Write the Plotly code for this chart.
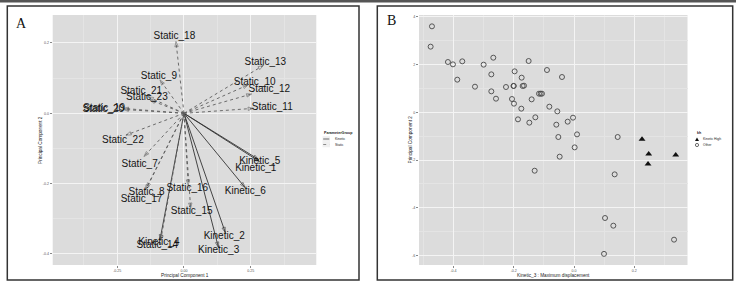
import plotly.graph_objects as go

W, H = 736, 290

# ---------------- Panel A : PCA loadings ----------------
var_names = ["Kinetic_1", "Kinetic_2", "Kinetic_3", "Kinetic_4", "Kinetic_5", "Kinetic_6",
             "Static_7", "Static_8", "Static_9", "Static_10", "Static_11", "Static_12",
             "Static_13", "Static_14", "Static_15", "Static_16", "Static_17", "Static_18",
             "Static_19", "Static_20", "Static_21", "Static_22", "Static_23"]
var_group = ["Kinetic"] * 6 + ["Static"] * 17
arrow_pc1 = [0.2825, 0.155, 0.129, -0.090, 0.279, 0.229,
             -0.150, -0.140, -0.090, 0.241, 0.260, 0.254,
             0.2975, -0.0875, 0.025, 0.016, -0.145, -0.030,
             -0.2275, -0.2275, -0.134, -0.2175, -0.1275]
arrow_pc2 = [-0.137, -0.339, -0.381, -0.360, -0.131, -0.211,
             -0.123, -0.213, 0.095, 0.081, 0.014, 0.055,
             0.136, -0.362, -0.270, -0.204, -0.218, 0.204,
             0.014, 0.011, 0.047, -0.062, 0.038]
label_pc1 = [0.269, 0.151, 0.130, -0.094, 0.284, 0.230,
             -0.166, -0.140, -0.094, 0.265, 0.331, 0.320,
             0.305, -0.100, 0.029, 0.0125, -0.159, -0.036,
             -0.299, -0.3025, -0.160, -0.229, -0.139]
label_pc2 = [-0.156, -0.351, -0.389, -0.368, -0.137, -0.223,
             -0.146, -0.225, 0.106, 0.088, 0.017, 0.069,
             0.144, -0.377, -0.280, -0.214, -0.244, 0.218,
             0.013, 0.010, 0.062, -0.076, 0.044]

# ---------------- Panel B : scatter ----------------
other_x = [-0.4716, -0.476, -0.4185, -0.4019, -0.3709, -0.3875, -0.3288, -0.300, -0.2679,
           -0.2745, -0.2745, -0.259, -0.2258, -0.2004, -0.2004, -0.1971, -0.2059, -0.1993,
           -0.1738, -0.1705, -0.166, -0.1506, -0.1406, -0.1749, -0.186, -0.1483, -0.1284,
           -0.1162, -0.1107, -0.1063, -0.0897, -0.0819, -0.0399, -0.0554, -0.0587, -0.052,
           -0.0476, -0.021, -0.0033, 0.010, 0.0022, -0.1306, 0.145, 0.135, 0.103, 0.1306,
           0.0996, 0.3321]
other_y = [3.596, 2.745, 2.103, 2.005, 2.131, 1.364, 1.071, 1.992, 2.284,
           1.587, 0.876, 0.569, 1.057, 1.099, 1.105, 1.713, 0.555, 0.360,
           1.448, 1.099, 1.113, 2.145, 0.541, 0.151, -0.295, -0.434, -0.211,
           0.778, 0.778, 0.778, 1.768, 0.234, 1.476, 0.039, -0.519, -1.035,
           -1.858, -0.393, -0.226, -0.924, -1.468, -2.445, -1.035, -2.597, -4.424, -4.745,
           -5.924, -5.330]
kh_x = [0.2258, 0.248, 0.3377, 0.2458]
kh_y = [-1.132, -1.746, -1.788, -2.165]

group_style = {"Kinetic": ("solid", "#333333"), "Static": ("dot", "#5e5e5e")}


def px(x):
    return x / W


def py(y):
    return 1 - y / H


fig = go.Figure()

for grp, (dash, col) in group_style.items():
    xs, ys, sz = [], [], []
    for g, ex, ey in zip(var_group, arrow_pc1, arrow_pc2):
        if g != grp:
            continue
        xs += [0, ex, None]
        ys += [0, ey, None]
        sz += [0, 5.5, 0]
    fig.add_trace(go.Scatter(
        x=xs, y=ys, mode="lines+markers", xaxis="x", yaxis="y",
        line=dict(color=col, width=0.9, dash=dash),
        marker=dict(symbol="arrow-open", size=sz, angleref="previous",
                    color=col, line=dict(color=col, width=0.8)),
        hoverinfo="skip", showlegend=False))

fig.add_trace(go.Scatter(
    x=label_pc1, y=label_pc2, text=var_names, mode="text", xaxis="x", yaxis="y",
    textposition="middle center",
    textfont=dict(family="Liberation Sans, Arial", size=10, color="#141414"),
    showlegend=False))

fig.add_trace(go.Scatter(
    x=other_x, y=other_y, mode="markers", xaxis="x2", yaxis="y2",
    marker=dict(symbol="circle-open", size=5, color="#474747", line=dict(color="#474747", width=0.9)),
    showlegend=False))
fig.add_trace(go.Scatter(
    x=kh_x, y=kh_y, mode="markers", xaxis="x2", yaxis="y2",
    marker=dict(symbol="triangle-up", size=6, color="#111111"),
    showlegend=False))

grid_major = "#f4f4f4"
grid_minor = "#e4e4e4"
tickfont = dict(family="Liberation Sans, Arial", size=3.6, color="#555555")
common = dict(showgrid=True, gridcolor=grid_major, gridwidth=0.9, zeroline=False,
              ticks="outside", ticklen=2, tickwidth=0.6, tickcolor="#888888",
              tickfont=tickfont, showline=False, fixedrange=True)

fig.update_layout(
    width=W, height=H, margin=dict(l=0, r=0, t=0, b=0),
    paper_bgcolor="white", plot_bgcolor="#dcdcdc", showlegend=False,
    xaxis=dict(domain=[px(52.7), px(316.3)], range=[-0.492, 0.496], anchor="y",
               tickvals=[-0.25, 0, 0.25], ticktext=["-0.25", "0.00", "0.25"],
               minor=dict(tickvals=[-0.375, -0.125, 0.125, 0.375], showgrid=True,
                          gridcolor=grid_minor, gridwidth=0.5, ticks=""), **common),
    yaxis=dict(domain=[py(265), py(15)], range=[-0.4313, 0.2795], anchor="x",
               tickvals=[-0.4, -0.2, 0, 0.2], ticktext=["-0.4", "-0.2", "0.0", "0.2"],
               minor=dict(tickvals=[-0.3, -0.1, 0.1], showgrid=True,
                          gridcolor=grid_minor, gridwidth=0.5, ticks=""), **common),
    xaxis2=dict(domain=[px(419), px(687.5)], range=[-0.5146, 0.3768], anchor="y2",
                tickvals=[-0.4, -0.2, 0, 0.2], ticktext=["-0.4", "-0.2", "0.0", "0.2"],
                minor=dict(tickvals=[-0.5, -0.3, -0.1, 0.1, 0.3], showgrid=True,
                           gridcolor=grid_minor, gridwidth=0.5, ticks=""), **common),
    yaxis2=dict(domain=[py(265), py(15)], range=[-6.39, 4.07], anchor="x2",
                tickvals=[-6, -4, -2, 0, 2, 4], ticktext=["-6", "-4", "-2", "0", "2", "4"],
                minor=dict(tickvals=[-5, -3, -1, 1, 3], showgrid=True,
                           gridcolor=grid_minor, gridwidth=0.5, ticks=""), **common),
)

shapes = [
    dict(type="rect", xref="paper", yref="paper", x0=0, x1=1, y0=py(2.5), y1=1,
         fillcolor="#555555", line=dict(width=0), layer="above"),
    dict(type="rect", xref="paper", yref="paper", x0=px(7.3), x1=px(359), y0=py(280), y1=py(6),
         line=dict(color="#333333", width=1.5), layer="above"),
    dict(type="rect", xref="paper", yref="paper", x0=px(377.3), x1=px(732.7), y0=py(280), y1=py(6),
         line=dict(color="#333333", width=1.5), layer="above"),
    # legend A keys
    dict(type="rect", xref="paper", yref="paper", x0=px(322.5), x1=px(330), y0=py(141.8), y1=py(136.2),
         fillcolor="#f0f0f0", line=dict(width=0)),
    dict(type="rect", xref="paper", yref="paper", x0=px(322.5), x1=px(330), y0=py(147.3), y1=py(141.8),
         fillcolor="#f0f0f0", line=dict(width=0)),
    dict(type="line", xref="paper", yref="paper", x0=px(323.2), x1=px(329.3), y0=py(139), y1=py(139),
         line=dict(color="#333333", width=0.7)),
    dict(type="line", xref="paper", yref="paper", x0=px(323.2), x1=px(329.3), y0=py(144.5), y1=py(144.5),
         line=dict(color="#5e5e5e", width=0.7, dash="dot")),
    # legend B keys
    dict(type="path", xref="paper", yref="paper",
         path=f"M {px(695)},{py(141)} L {px(699)},{py(141)} L {px(697)},{py(137.4)} Z",
         fillcolor="#111111", line=dict(width=0)),
    dict(type="circle", xref="paper", yref="paper", x0=px(695.4), x1=px(698.6), y0=py(146.6), y1=py(143.4),
         line=dict(color="#474747", width=0.8)),
]

ann_font = dict(family="Liberation Sans, Arial", color="#222222")
annotations = [
    dict(text="A", x=px(21.7), y=py(24), xref="paper", yref="paper", showarrow=False,
         font=dict(family="Liberation Serif, Times New Roman", size=14, color="#111111"),
         xanchor="center", yanchor="middle"),
    dict(text="B", x=px(391.7), y=py(20.8), xref="paper", yref="paper", showarrow=False,
         font=dict(family="Liberation Serif, Times New Roman", size=14, color="#111111"),
         xanchor="center", yanchor="middle"),
    dict(text="Principal Component 1", x=px(184.5), y=py(275.5), xref="paper", yref="paper",
         showarrow=False, font=dict(size=4.7, **ann_font), xanchor="center", yanchor="middle"),
    dict(text="Principal Component 2", x=px(40), y=py(140), xref="paper", yref="paper",
         showarrow=False, textangle=-90, font=dict(size=4.7, **ann_font),
         xanchor="center", yanchor="middle"),
    dict(text="Kinetic_3 : Maximum displacement", x=px(553), y=py(275.5), xref="paper", yref="paper",
         showarrow=False, font=dict(size=4.7, **ann_font), xanchor="center", yanchor="middle"),
    dict(text="Principal Component 2", x=px(409.5), y=py(140), xref="paper", yref="paper",
         showarrow=False, textangle=-90, font=dict(size=4.7, **ann_font),
         xanchor="center", yanchor="middle"),
    # legend A
    dict(text="<b>ParameterGroup</b>", x=px(322), y=py(132.7), xref="paper", yref="paper",
         showarrow=False, font=dict(size=3.6, **ann_font), xanchor="left", yanchor="middle"),
    dict(text="Kinetic", x=px(332.5), y=py(139), xref="paper", yref="paper",
         showarrow=False, font=dict(size=3.4, **ann_font), xanchor="left", yanchor="middle"),
    dict(text="Static", x=px(332.5), y=py(144.5), xref="paper", yref="paper",
         showarrow=False, font=dict(size=3.4, **ann_font), xanchor="left", yanchor="middle"),
    # legend B
    dict(text="<b>kh</b>", x=px(694.5), y=py(132.7), xref="paper", yref="paper",
         showarrow=False, font=dict(size=3.6, **ann_font), xanchor="left", yanchor="middle"),
    dict(text="Kinetic High", x=px(701), y=py(139.3), xref="paper", yref="paper",
         showarrow=False, font=dict(size=3.4, **ann_font), xanchor="left", yanchor="middle"),
    dict(text="Other", x=px(701), y=py(145), xref="paper", yref="paper",
         showarrow=False, font=dict(size=3.4, **ann_font), xanchor="left", yanchor="middle"),
]

fig.update_layout(shapes=shapes, annotations=annotations)

fig.write_html("out.html")
